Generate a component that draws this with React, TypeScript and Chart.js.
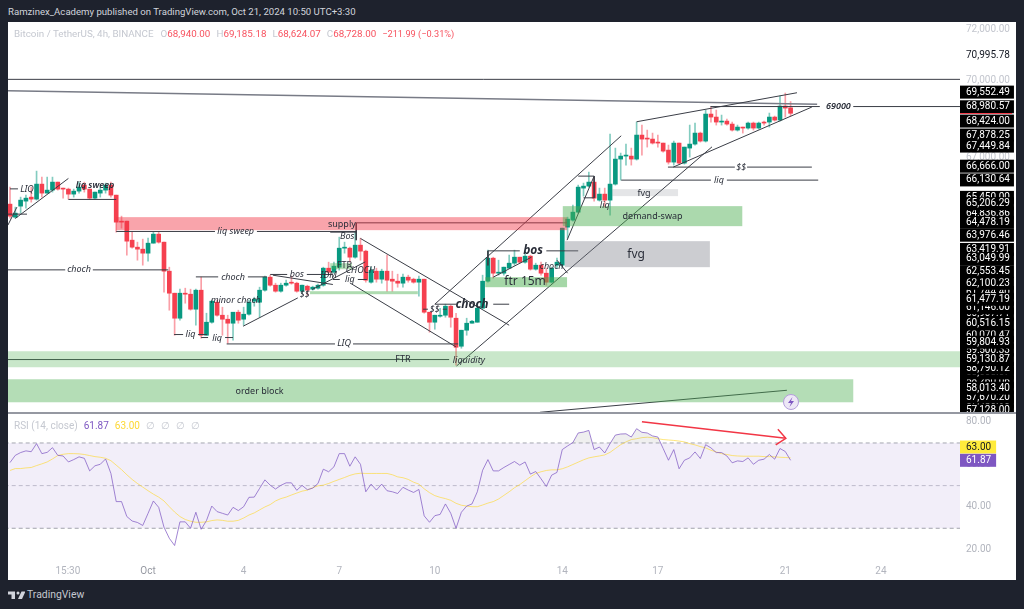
import React, { useEffect, useRef } from "react";
import { Chart, registerables } from "chart.js";
Chart.register(...registerables);

// ---------- candles (4h BTC/USDT) ----------
const opens = [65187,64680,65109,65304,65460,65382,65967,65616,65733,66045,65790,65772,65577,65694,65928,65772,65421,65616,65733,65928,65538,64524,64524,63783,63510,63432,63276,63666,64017,63705,62574,61716,60741,61716,61677,61092,61833,60078,60585,61365,60858,60702,60546,60975,60702,60897,61404,61365,61833,62340,62028,61794,62028,62145,62106,61794,61989,61872,61911,62028,62691,62535,62730,63471,63471,63120,63588,63354,62145,62574,62262,62574,62262,62184,62106,62340,62262,62145,62262,60975,60585,60819,60858,61209,60741,59649,60273,60546,60585,61131,62184,63081,62496,62496,62691,62886,63120,62925,63159,62652,62808,62496,62145,62808,62808,64290,64563,64875,65811,65889,66045,65343,65577,65343,65967,66942,67059,67059,66942,67878,67761,67722,67605,67566,67293,66825,67566,66786,67371,67527,67956,67644,68697,68580,68385,68424,68307,68073,68190,68151,68346,68151,68385,68385,68580,68463,69009,68940];
const highs = [65850,65070,65460,65538,65850,66474,66240,66240,66240,66045,65811,65811,65772,66045,66045,65772,65655,65850,66006,66045,65538,64719,64524,64095,63705,63822,63861,64095,64095,63705,62730,61716,61872,61911,61872,61872,62340,60936,61443,61443,61170,60858,60975,61053,61170,61443,61560,61950,62379,62418,62106,62106,62223,62379,62145,62028,62028,61989,62067,62730,62925,62925,63900,63705,63510,64095,63861,63393,62730,62691,62652,63198,62574,62457,62457,62418,62301,62379,62262,60975,60858,61131,61287,61248,60936,60273,60741,60663,61326,62418,63393,63120,63003,62730,63198,63393,63120,63393,63198,62886,62925,62691,62730,63081,64251,64680,65148,65928,66006,66435,66240,65811,65811,67917,67371,67176,67527,67371,68385,68268,68073,67956,67878,67566,67488,67644,67566,67410,68268,68346,67995,68853,68970,68853,68658,68502,68385,68268,68190,68385,68385,68385,68424,68736,68619,69399,69516,69185];
const lows = [64641,64641,64836,65031,65265,65343,65460,65616,65655,65733,65421,65382,65460,65616,65655,65382,65382,65460,65616,65460,64095,64251,63198,63471,63003,62808,62964,63666,63666,61755,61053,60078,60663,61326,61053,60468,59961,60078,60546,60819,60078,59766,59883,60546,60468,60858,61209,60780,61794,61989,61755,61755,61989,62067,61755,61716,61638,61833,61872,61989,62496,62496,62613,63276,62925,63081,63003,62145,62106,62145,62106,61794,61794,61950,61950,62145,62106,61599,60936,60195,60312,60780,60780,60390,58908,59571,60078,60546,60585,61131,62145,62301,62418,62418,62691,62808,62886,62886,62613,62613,62418,62028,62106,62691,62730,63861,64524,64836,65499,65850,65304,65304,65070,64758,65928,66123,66708,66708,66903,67098,67410,67527,67410,67215,66747,66708,66747,66747,67020,67488,67605,67605,68385,68268,68268,68268,68034,68034,67956,68112,68073,68112,68268,68190,68424,68424,68580,68624];
const closes = [64719,64836,65343,65421,65382,65967,65616,65733,66045,65772,65772,65577,65694,65850,65772,65421,65655,65733,65928,65538,64485,64485,63744,63510,63432,63276,63666,64017,63705,62574,61716,60741,61716,61677,61092,61833,60078,60585,61404,60858,60702,60546,60975,60663,60897,61365,61482,61833,62340,62028,61794,62028,62106,62106,61794,62028,61833,61950,62028,62691,62535,62769,63471,63510,63120,63588,63354,62223,62613,62262,62574,62223,62184,62106,62340,62223,62145,62262,60975,60585,60858,60858,61209,60780,59610,60273,60546,60624,61131,62184,63081,62496,62535,62730,62886,63120,62925,63159,62652,62808,62496,62145,62691,62925,64251,64602,64875,65850,65889,66045,65421,65577,65343,65967,66942,67059,67098,66942,67878,67722,67722,67566,67566,67254,66825,67566,66786,67410,67527,67956,67644,68697,68580,68385,68424,68307,68073,68190,68151,68346,68151,68346,68346,68580,68463,69009,68931,68728];

// ---------- RSI ----------
const rsiValues = [60.8,64.2,65.5,66.3,65.9,69.7,65.0,65.6,67.8,64.2,63.9,61.1,62.2,63.5,62.8,56.9,59.3,60.0,62.5,55.7,42.5,42.5,35.5,33.4,32.7,31.3,37.0,42.8,39.8,30.5,25.3,21.9,33.0,33.0,30.0,37.5,29.5,33.6,40.4,37.8,37.0,36.2,39.8,38.3,40.1,44.5,44.6,48.7,52.7,50.2,48.4,50.1,51.3,51.3,47.8,50.1,48.1,48.8,51.0,57.7,56.5,58.8,65.0,65.0,59.1,63.5,60.0,47.1,50.7,47.9,50.7,47.6,47.1,46.3,49.2,47.9,46.8,48.2,35.8,32.8,35.9,36.5,41.4,37.0,30.0,37.5,40.4,41.4,47.1,57.2,62.2,56.9,56.9,58.5,59.9,61.3,59.6,61.1,55.4,56.6,53.2,49.6,54.9,56.2,66.9,68.6,70.2,74.7,75.1,75.9,66.9,68.1,65.3,69.7,73.7,74.2,74.3,72.8,76.7,75.0,74.7,73.3,72.8,67.4,61.9,66.9,57.9,61.9,63.0,65.8,62.7,69.2,67.7,65.5,65.5,63.9,60.7,61.6,61.3,63.0,60.0,61.9,62.4,64.6,62.4,67.4,66.0,61.87];
const rsiMaValues = [57.1,58.0,58.0,58.3,58.5,59.4,60.2,61.1,62.5,64.1,64.7,65.0,65.0,64.9,64.6,64.1,63.6,63.3,62.8,61.7,59.6,57.5,55.1,52.9,51.0,49.3,47.6,46.0,44.6,42.8,40.1,37.6,35.5,34.1,33.3,32.8,32.8,33.0,33.6,33.9,33.7,33.3,33.3,33.7,34.8,36.2,37.2,38.6,40.0,41.1,42.8,43.9,44.6,45.6,46.5,47.4,47.9,49.0,49.9,50.2,51.0,52.0,52.9,53.8,54.8,55.5,55.8,55.7,55.7,55.7,55.7,55.7,55.1,54.1,53.7,52.9,51.6,50.7,48.5,46.7,45.3,44.5,43.9,43.1,41.7,40.8,40.4,40.1,40.1,40.9,41.8,42.5,43.7,45.4,47.1,49.0,50.5,52.3,54.1,55.7,56.5,57.1,57.4,57.4,57.9,58.8,59.9,61.0,62.1,63.0,63.5,63.9,64.4,65.6,67.4,69.2,70.5,71.6,72.0,72.5,72.7,72.5,72.0,71.6,71.4,71.2,70.9,70.5,69.7,69.1,68.3,67.7,66.6,65.8,65.0,64.6,64.1,63.9,63.8,63.8,63.8,63.8,63.6,63.6,63.5,63.3,63.2,63.0];
const rsiBands = [70, 50, 30];
const rsiArrow = [[119,80],[146.1,72.2],null,[144.6,76.4],[146.1,72.2],[144.2,69.1]];

// ---------- axes ----------
const X_MIN = -0.377, X_MAX = 178.9;
const timeTickBars = [10.9, 26, 44, 62, 80, 104, 122, 146, 164];
const timeTickLabels = ["15:30", "Oct", "4", "7", "10", "14", "17", "21", "24"];
const priceGreyTicks = [72000, 70000, 67000];
const pricePlainTicks = [70995.78];
// painted first, lowest first, so that the later tags hide most of them
const priceCoveredTicks = [57480.9, 57670.2, 58260.06, 58608.07, 58790.12, 59500.33, 60070.47, 60907.71, 61146, 61744.4, 62100.23, 64836.86, 65450];
const priceBoxTicks = [69552.49, 68980.57, 68424, 67878.25, 67449.84, 66666, 66130.64, 65206.29, 64478.19, 63976.46, 63419.91, 63049.99, 62553.45, 61477.19, 60516.15, 59804.93, 59130.87, 58013.4, 57128];
const lastClose = 68728;
const rsiGreyTicks = [80, 60, 40, 20];
// 63.00 is pushed up by the 61.87 tag, as in the reference
const rsiTagTicks = [[68.1, "63.00"], [61.87, "61.87"]];

// ---------- drawings: [bar1, price1, bar2, price2] ----------
const darkLines = [
  [-1,70050,179,70050],[131.9,68990,152.5,68990],[158.8,68990,179,68990],
  [118,68397,148.2,69528],[124.9,66630,151,68970],[123.9,66630,136.5,66630],[138.8,66630,151,66630],
  [115.1,66123,132,66123],[135,66123,152.2,66123],
  [84.1,58880,132.2,67420],[80,61287,115.1,67851],[104.9,63783,110,66279],
  [107,66279,110,66279],[108,65433,110,65433],[110,66279,110,65433],
  [65.2,64458,104.9,64458],[65.2,64458,65.2,63783],[60.3,64095,65.2,64095],
  [66,63849,94,60468],[64,62118,84,59622],[80,61287,84,61287],[91,61287,94,61287],
  [-1,59130,82.7,59130],[40.8,59739,61.2,59739],[64.6,59739,84.4,59739],
  [-1,62625,10.4,62625],[15.6,62625,29.8,62625],
  [20,64122,38.6,64122],[46.5,64122,65.2,64122],
  [35,62352,39.2,62352],[44.8,62352,48.4,62352],
  [49,62446,52.2,62446],[55.9,62446,60.8,62446],[49.5,62418,60.8,62055],
  [43.9,60429,54.2,61533],[56.9,61860,66.9,62937],
  [30.9,60105,32.6,60105],[35.4,60105,37.1,60105],[36,59988,37.3,59988],[40.5,59988,42,59988],
  [60.8,62250,62.1,62250],[65.5,62250,67.2,62250],[77.8,61092,78.7,61092],[81.5,61092,82.3,61092],
  [90,63366,96,63366],[101,63366,107,63366],[90,63366,90,62800],[91,62340,98.2,63120],[103,63003,105,62496],
  [1,64629,11,66189],[-0.4,64368,1.3,65070],[0,65782,1.5,65782],[11,65370,20,65370],[-1,64797,3.2,64797],
  [99.8,57075,146.3,57933],
];
const greyLines = [[-0.4,69606,152,69075]];

// ---------- zones ----------
const zones = [
  ["supply",20,104.9,64680,64173],["fvgBig",104.5,131.8,63744,62730],["fvgSmall",113.4,125.8,65772,65499],
  ["demand",104.1,137.9,65109,64329],["ftr15",89.5,104.9,62340,61950],["ftrWide",-1,179,59454,58830],
  ["orderBlock",-1,158.8,58362,57465],["ftrThin",56.5,76.8,61794,61677],["ftrSmall",60.3,64.4,62886,62652],
];
const zoneColours = {
  supply: "rgba(242,54,69,0.45)", fvgBig: "rgba(120,123,134,0.38)", fvgSmall: "rgba(120,123,134,0.2)",
  demand: "rgba(76,175,80,0.47)", ftr15: "rgba(76,175,80,0.5)", ftrWide: "rgba(76,175,80,0.3)",
  orderBlock: "rgba(76,175,80,0.42)", ftrThin: "rgba(76,175,80,0.45)", ftrSmall: "rgba(76,175,80,0.4)",
};

// ---------- notes: [text, bar, price, style] ----------
const notes = [
  ["LIQ",3.2,65772,"i"],["liq sweep",16,65928,"ib"],["choch",13,62625,"i"],["liq sweep",42.5,64106,"i"],
  ["choch",42,62340,"i"],["minor choch",42.5,61415,"i"],["bos",54,62430,"i"],["$$",55.5,61665,"i"],
  ["IDM",60,62391,"i"],["liq",34,60105,"i"],["liq",39,59934,"i"],["LIQ",62.9,59739,"i"],
  ["FTR",74,59130,"n"],["liquidity",86.4,59103,"i"],["order block",47,57894,"n"],["supply",62.5,64407,"n"],
  ["Bos",63.5,63939,"i"],["FTR",63,62781,"n"],["CHOCH",66,62586,"i"],["liq",64,62250,"i"],["$$",80,61092,"i"],
  ["choch",87,61276,"big"],["bos",98.5,63366,"big"],["ftr 15m",97,62157,"large"],["choch",102,62742,"i"],
  ["fvg",117.9,63237,"large"],["demand-swap",121,64719,"n"],["fvg",119.4,65616,"n"],["liq",112,65148,"i"],
  ["$$",137.7,66620,"i"],["liq",133.5,66096,"i"],["69000",156,68980,"ib"],
];
const noteFonts = {
  i: "italic 9px 'Noto Sans'", ib: "italic 600 9px 'Noto Sans'", n: "9px 'Noto Sans'",
  big: "italic 700 12px 'Noto Sans'", large: "12px 'Noto Sans'",
};

const segmentsToPoints = (segs) =>
  segs.flatMap(([a, b, c, d]) => [{ x: a, y: b }, { x: c, y: d }, { x: c, y: null }]);

const GREEN = "#089981", RED = "#f5404f";
const isUp = (i) => closes[i] >= opens[i];
const AXIS_FONT = { family: "Roboto", size: 10 };
const noGrid = { display: false, drawTicks: false };
const clearPadding = (s) => { s.paddingTop = 0; s.paddingBottom = 0; s.paddingLeft = 0; s.paddingRight = 0; };

export default function App() {
  const priceRef = useRef<HTMLCanvasElement>(null);
  const rsiRef = useRef<HTMLCanvasElement>(null);

  useEffect(() => {
    const priceTicks = [
      ...priceGreyTicks.map((v) => [v, "grey"]),
      ...pricePlainTicks.map((v) => [v, "plain"]),
      ...priceCoveredTicks.map((v) => [v, "box"]),
      ...priceBoxTicks.map((v) => [v, "box"]),
    ];
    const fmt = (v) => v.toLocaleString("en-US", { minimumFractionDigits: 2, maximumFractionDigits: 2 });
    const kind = (ctx) => priceTicks[ctx.index]?.[1];

    const overlay = {
      id: "overlay",
      afterDatasetsDraw(chart) {
        const { ctx, chartArea: a, scales: { x, y } } = chart;
        ctx.save();
        ctx.beginPath();
        ctx.rect(a.left, a.top, a.right - a.left, a.bottom - a.top);
        ctx.clip();
        zones.forEach(([name, i1, i2, p1, p2]) => {
          ctx.fillStyle = zoneColours[name];
          const px = x.getPixelForValue(i1), py = y.getPixelForValue(p1);
          ctx.fillRect(px, py, x.getPixelForValue(i2) - px, y.getPixelForValue(p2) - py);
        });
        ctx.textAlign = "center";
        ctx.textBaseline = "middle";
        notes.forEach(([text, i, p, style]) => {
          ctx.font = noteFonts[style];
          ctx.fillStyle = "#2a2e39";
          ctx.fillText(text, x.getPixelForValue(i), y.getPixelForValue(p));
        });
        ctx.restore();
      },
      afterDraw(chart) {
        const { ctx, chartArea: a, scales: { y } } = chart;
        const py = Math.round(y.getPixelForValue(lastClose)) + 0.5;
        ctx.save();
        ctx.strokeStyle = RED;
        ctx.beginPath();
        ctx.moveTo(a.right, py);
        ctx.lineTo(a.right + 52, py);
        ctx.stroke();
        ctx.restore();
      },
    };

    const priceChart = new Chart(priceRef.current, {
      type: "bar",
      data: {
        datasets: [
          { type: "line", order: 0, data: segmentsToPoints(darkLines), borderColor: "#3a3d46", borderWidth: 1, pointRadius: 0 },
          { type: "line", order: 0, data: segmentsToPoints(greyLines), borderColor: "#787b86", borderWidth: 1.5, pointRadius: 0 },
          {
            type: "bar", order: 1, grouped: false, barThickness: 4, minBarLength: 1,
            data: opens.map((o, i) => ({ x: i, y: [o, closes[i]] })),
            backgroundColor: opens.map((_, i) => (isUp(i) ? GREEN : RED)),
          },
          {
            type: "bar", order: 2, grouped: false, barThickness: 1,
            data: opens.map((_, i) => ({ x: i, y: [lows[i], highs[i]] })),
            backgroundColor: opens.map((_, i) => (isUp(i) ? "rgba(8,153,129,0.5)" : "rgba(245,64,79,0.5)")),
          },
        ],
      },
      options: {
        responsive: false, animation: false, maintainAspectRatio: false,
        layout: { padding: 0 },
        plugins: { legend: { display: false }, tooltip: { enabled: false } },
        scales: {
          x: { type: "linear", min: X_MIN, max: X_MAX, display: false, offset: false, grid: { ...noGrid, offset: false } },
          y: {
            type: "linear", position: "right", min: 57086, max: 72285,
            grid: noGrid, border: { display: false },
            afterBuildTicks: (s) => { s.ticks = priceTicks.map(([value]) => ({ value })); },
            afterFit: (s) => { s.width = 56; clearPadding(s); },
            ticks: {
              autoSkip: false, padding: 6, font: AXIS_FONT,
              callback: (_v, idx) => fmt(priceTicks[idx][0]),
              color: (c) => (kind(c) === "grey" ? "#c3c6ce" : kind(c) === "plain" ? "#131722" : "#ffffff"),
              showLabelBackdrop: (c) => kind(c) === "box",
              backdropColor: "#000000",
              backdropPadding: { top: 0.5, bottom: 0.5, left: 6, right: 4 },
            },
          },
        },
      },
      plugins: [overlay],
    });

    const rsiTicks = [
      ...rsiGreyTicks.map((v) => [v, v.toFixed(2), "grey"]),
      ...rsiTagTicks.map(([v, t], i) => [v, t, i === 0 ? "ma" : "rsi"]),
    ];
    const bars = rsiValues.map((_, i) => i);
    const rsiChart = new Chart(rsiRef.current, {
      type: "line",
      data: {
        datasets: [
          { order: 0, data: rsiArrow.map((p) => (p ? { x: p[0], y: p[1] } : { x: 146, y: null })), borderColor: "#f23645", borderWidth: 1.5, pointRadius: 0 },
          { order: 1, data: bars.map((i) => ({ x: i, y: rsiValues[i] })), borderColor: "rgba(126,87,194,0.72)", borderWidth: 1, pointRadius: 0, fill: { target: { value: 70 }, above: "rgba(150,150,150,0.15)", below: "rgba(0,0,0,0)" } },
          { order: 2, data: bars.map((i) => ({ x: i, y: rsiMaValues[i] })), borderColor: "rgba(253,216,53,0.65)", borderWidth: 1, pointRadius: 0 },
          { order: 3, data: [{ x: -1, y: rsiBands[0] }, { x: 179, y: rsiBands[0] }], borderColor: "#a5a7b0", borderWidth: 1, borderDash: [4, 3], pointRadius: 0, fill: { target: { value: rsiBands[2] }, above: "rgba(126,87,194,0.1)" } },
          { order: 3, data: [{ x: -1, y: rsiBands[1] }, { x: 179, y: rsiBands[1] }], borderColor: "#c4c5cc", borderWidth: 1, borderDash: [4, 3], pointRadius: 0 },
          { order: 3, data: [{ x: -1, y: rsiBands[2] }, { x: 179, y: rsiBands[2] }], borderColor: "#a5a7b0", borderWidth: 1, borderDash: [4, 3], pointRadius: 0 },
        ],
      },
      options: {
        responsive: false, animation: false, maintainAspectRatio: false,
        layout: { padding: 0 },
        plugins: { legend: { display: false }, tooltip: { enabled: false } },
        scales: {
          x: {
            type: "linear", min: X_MIN, max: X_MAX, grid: noGrid, border: { display: false },
            afterBuildTicks: (s) => { s.ticks = timeTickBars.map((value) => ({ value })); },
            afterFit: (s) => { s.height = 17; clearPadding(s); },
            ticks: {
              autoSkip: false, maxRotation: 0, padding: 2, font: AXIS_FONT,
              callback: (_v, idx) => timeTickLabels[idx],
              color: (c) => (timeTickLabels[c.index] === "Oct" ? "#9598a1" : "#b2b5be"),
            },
          },
          y: {
            type: "linear", position: "right", min: 13.7, max: 84.06,
            grid: noGrid, border: { display: false },
            afterBuildTicks: (s) => { s.ticks = rsiTicks.map(([value]) => ({ value })); },
            afterFit: (s) => { s.width = 56; clearPadding(s); },
            ticks: {
              autoSkip: false, padding: 6, font: AXIS_FONT,
              callback: (_v, idx) => rsiTicks[idx][1],
              color: (c) => { const k = rsiTicks[c.index]?.[2]; return k === "grey" ? "#b2b5be" : k === "ma" ? "#131722" : "#ffffff"; },
              showLabelBackdrop: (c) => rsiTicks[c.index]?.[2] !== "grey",
              backdropColor: (c) => (rsiTicks[c.index]?.[2] === "ma" ? "#ffeb3b" : "#7e57c2"),
              backdropPadding: { top: 0.5, bottom: 0.5, left: 6, right: 5 },
            },
          },
        },
      },
    });

    return () => { priceChart.destroy(); rsiChart.destroy(); };
  }, []);

  const legendGrey = "#c5c8d0";
  const legendRed = "#f7525f";
  const abs = (left, top) => ({ position: "absolute", left, top, whiteSpace: "nowrap" }) as React.CSSProperties;
  return (
    <div style={{ position: "fixed", left: 0, top: 0, width: 1024, height: 609, background: "#1e222d", overflow: "hidden", fontFamily: "Roboto" }}>
      <style>{`body{margin:0;background:#1e222d}`}</style>
      <div style={{ ...abs(8, 5), color: "#d1d4dc", fontSize: 9.6, lineHeight: "14px" }}>
        Ramzinex_Academy published on TradingView.com, Oct 21, 2024 10:50 UTC+3:30
      </div>
      <div style={{ position: "absolute", left: 8, top: 22, width: 1008, height: 558, background: "#ffffff" }} />
      <canvas ref={priceRef} width={1008} height={390} style={{ position: "absolute", left: 8, top: 22, display: "block" }} />
      <div style={{ position: "absolute", left: 8, top: 412, width: 1008, height: 1.5, background: "#9598a1" }} />
      <canvas ref={rsiRef} width={1008} height={167} style={{ position: "absolute", left: 8, top: 413, display: "block" }} />

      <div style={{ ...abs(14, 27), fontSize: 9.8, lineHeight: "13px", color: legendGrey }}>
        <span>Bitcoin / TetherUS, 4h, BINANCE</span>
        <span style={{ marginLeft: 7 }}>O</span><span style={{ color: legendRed }}>68,940.00</span>
        <span style={{ marginLeft: 6 }}>H</span><span style={{ color: legendRed }}>69,185.18</span>
        <span style={{ marginLeft: 6 }}>L</span><span style={{ color: legendRed }}>68,624.07</span>
        <span style={{ marginLeft: 6 }}>C</span><span style={{ color: legendRed }}>68,728.00</span>
        <span style={{ marginLeft: 6, color: legendRed, fontSize: 9.2 }}>−211.99 (−0.31%)</span>
      </div>
      <div style={{ ...abs(14, 419), fontSize: 10, lineHeight: "13px", color: legendGrey }}>
        <span>RSI (14, close)</span>
        <span style={{ marginLeft: 6, color: "#7e57c2" }}>61.87</span>
        <span style={{ marginLeft: 6, color: "#fdd835" }}>63.00</span>
        <span style={{ marginLeft: 6 }}>∅</span><span style={{ marginLeft: 6 }}>∅</span>
        <span style={{ marginLeft: 6 }}>∅</span><span style={{ marginLeft: 6 }}>∅</span>
      </div>

      <svg width="18" height="18" viewBox="0 0 18 18" style={{ position: "absolute", left: 782, top: 393 }}>
        <circle cx="9" cy="9" r="7.5" fill="#ede7f6" stroke="#b39ddb" strokeWidth="1" />
        <path d="M10.5 4 L6 10 H9 L7.5 14 L12 8 H9 Z" fill="#7e57c2" />
      </svg>

      <svg width="17" height="10" viewBox="0 0 34 20" style={{ position: "absolute", left: 8, top: 590 }}>
        <path d="M14 3H0v6h7v9h7V3zm14 15h-8l7-15h8l-7 15zM20 9a3 3 0 1 0 0-6 3 3 0 0 0 0 6z" fill="#d1d4dc" />
      </svg>
      <div style={{ ...abs(27, 587), fontSize: 10.4, lineHeight: "16px", color: "#c5c8d0" }}>TradingView</div>
    </div>
  );
}
